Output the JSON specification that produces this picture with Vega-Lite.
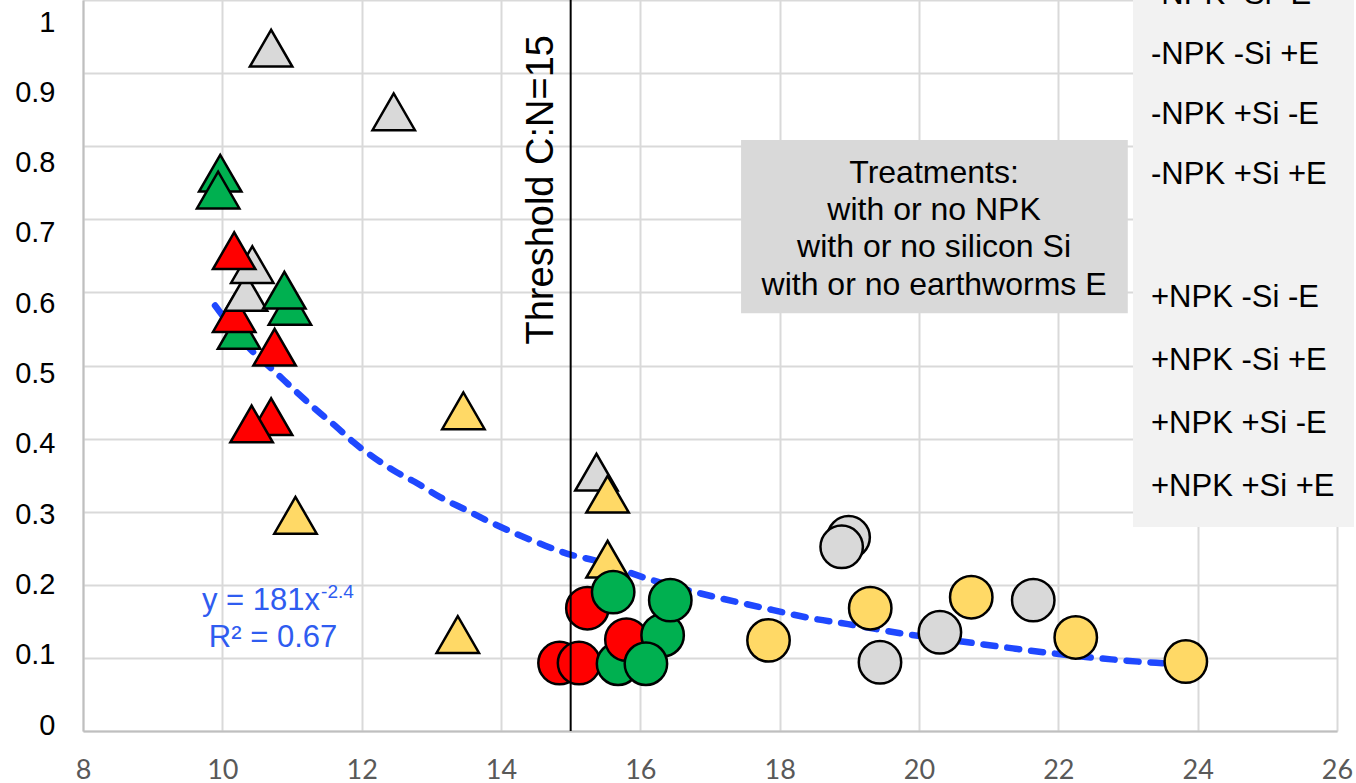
{
  "$schema": "https://vega.github.io/schema/vega-lite/v6.json",
  "width": 1254,
  "height": 731,
  "autosize": "none",
  "padding": {"left": 83, "top": 0, "right": 19, "bottom": 52},
  "background": "white",
  "config": {"view": {"stroke": null}, "font": "Liberation Sans"},
  "datasets": {
    "points": [
      {"cn": 10.24, "y": 0.548, "treatment": "-NPK +Si +E"},
      {"cn": 10.17, "y": 0.571, "treatment": "-NPK +Si -E"},
      {"cn": 10.34, "y": 0.600, "treatment": "-NPK -Si -E"},
      {"cn": 10.43, "y": 0.638, "treatment": "-NPK -Si -E"},
      {"cn": 10.17, "y": 0.657, "treatment": "-NPK +Si -E"},
      {"cn": 9.97, "y": 0.763, "treatment": "-NPK +Si +E"},
      {"cn": 9.94, "y": 0.740, "treatment": "-NPK +Si +E"},
      {"cn": 10.97, "y": 0.581, "treatment": "-NPK +Si +E"},
      {"cn": 10.89, "y": 0.603, "treatment": "-NPK +Si +E"},
      {"cn": 10.75, "y": 0.525, "treatment": "-NPK +Si -E"},
      {"cn": 10.70, "y": 0.430, "treatment": "-NPK +Si -E"},
      {"cn": 10.42, "y": 0.420, "treatment": "-NPK +Si -E"},
      {"cn": 10.70, "y": 0.934, "treatment": "-NPK -Si -E"},
      {"cn": 12.46, "y": 0.847, "treatment": "-NPK -Si -E"},
      {"cn": 13.46, "y": 0.438, "treatment": "-NPK -Si +E"},
      {"cn": 11.05, "y": 0.295, "treatment": "-NPK -Si +E"},
      {"cn": 13.38, "y": 0.132, "treatment": "-NPK -Si +E"},
      {"cn": 15.37, "y": 0.354, "treatment": "-NPK -Si -E"},
      {"cn": 15.53, "y": 0.324, "treatment": "-NPK -Si +E"},
      {"cn": 15.53, "y": 0.235, "treatment": "-NPK -Si +E"},
      {"cn": 15.24, "y": 0.168, "treatment": "+NPK +Si -E"},
      {"cn": 15.61, "y": 0.190, "treatment": "+NPK +Si +E"},
      {"cn": 14.84, "y": 0.093, "treatment": "+NPK +Si -E"},
      {"cn": 15.12, "y": 0.093, "treatment": "+NPK +Si -E"},
      {"cn": 15.68, "y": 0.092, "treatment": "+NPK +Si +E"},
      {"cn": 15.80, "y": 0.125, "treatment": "+NPK +Si -E"},
      {"cn": 16.32, "y": 0.131, "treatment": "+NPK +Si +E"},
      {"cn": 16.43, "y": 0.179, "treatment": "+NPK +Si +E"},
      {"cn": 16.08, "y": 0.092, "treatment": "+NPK +Si +E"},
      {"cn": 18.99, "y": 0.265, "treatment": "+NPK -Si -E"},
      {"cn": 18.89, "y": 0.252, "treatment": "+NPK -Si -E"},
      {"cn": 19.44, "y": 0.094, "treatment": "+NPK -Si -E"},
      {"cn": 20.30, "y": 0.135, "treatment": "+NPK -Si -E"},
      {"cn": 21.64, "y": 0.179, "treatment": "+NPK -Si -E"},
      {"cn": 17.84, "y": 0.124, "treatment": "+NPK -Si +E"},
      {"cn": 19.30, "y": 0.168, "treatment": "+NPK -Si +E"},
      {"cn": 20.75, "y": 0.183, "treatment": "+NPK -Si +E"},
      {"cn": 22.25, "y": 0.128, "treatment": "+NPK -Si +E"},
      {"cn": 23.83, "y": 0.095, "treatment": "+NPK -Si +E"}
    ],
    "trend": [
      {"cn": 9.895, "y": 0.582},
      {"cn": 10.42, "y": 0.5205},
      {"cn": 10.709, "y": 0.4955},
      {"cn": 11.068, "y": 0.4635},
      {"cn": 11.33, "y": 0.4408},
      {"cn": 11.642, "y": 0.4157},
      {"cn": 11.88, "y": 0.3952},
      {"cn": 12.167, "y": 0.3747},
      {"cn": 12.454, "y": 0.3566},
      {"cn": 12.766, "y": 0.3406},
      {"cn": 13.125, "y": 0.32},
      {"cn": 13.508, "y": 0.3019},
      {"cn": 13.843, "y": 0.2859},
      {"cn": 14.177, "y": 0.2714},
      {"cn": 14.56, "y": 0.2564},
      {"cn": 14.944, "y": 0.2427},
      {"cn": 15.33, "y": 0.2336},
      {"cn": 16.097, "y": 0.2086},
      {"cn": 16.867, "y": 0.1881},
      {"cn": 17.702, "y": 0.1698},
      {"cn": 18.469, "y": 0.1539},
      {"cn": 18.982, "y": 0.1462},
      {"cn": 19.751, "y": 0.1335},
      {"cn": 20.647, "y": 0.122},
      {"cn": 21.35, "y": 0.113},
      {"cn": 21.93, "y": 0.1061},
      {"cn": 22.763, "y": 0.098},
      {"cn": 23.403, "y": 0.0933},
      {"cn": 23.834, "y": 0.0915}
    ]
  },
  "layer": [
    {
      "data": {"name": "trend"},
      "mark": {"type": "line", "color": "#1f48ff", "strokeWidth": 6.5, "strokeDash": [12, 12], "strokeCap": "round", "interpolate": "monotone"},
      "encoding": {
        "x": {"field": "cn", "type": "quantitative", "scale": {"domain": [8, 26], "nice": false, "zero": false}},
        "y": {"field": "y", "type": "quantitative", "scale": {"domain": [0, 1], "nice": false}}
      }
    },
    {
      "data": {"name": "points"},
      "mark": {"type": "point", "filled": true, "stroke": "black", "strokeWidth": 2.5, "opacity": 1, "fillOpacity": 1, "strokeOpacity": 1},
      "encoding": {
        "x": {"field": "cn", "type": "quantitative", "scale": {"domain": [8, 26], "nice": false, "zero": false},
          "axis": {"values": [8, 10, 12, 14, 16, 18, 20, 22, 24, 26], "format": "d", "title": null, "grid": true, "gridColor": "#d9d9d9", "gridWidth": 2, "domainColor": "#bfbfbf", "domainWidth": 2, "ticks": false, "labelFont": "Lato", "labelFontSize": 27, "labelColor": "#595959", "labelPadding": 26, "labelFlush": false, "labelOverlap": false}},
        "y": {"field": "y", "type": "quantitative", "scale": {"domain": [0, 1], "nice": false},
          "axis": {"values": [0, 0.1, 0.2, 0.3, 0.4, 0.5, 0.6, 0.7, 0.8, 0.9, 1], "format": "~g", "title": null, "grid": true, "gridColor": "#d9d9d9", "gridWidth": 2, "domainColor": "#bfbfbf", "domainWidth": 2, "ticks": false, "labelFont": "Liberation Sans", "labelFontSize": 29, "labelColor": "black", "labelPadding": 28, "labelOffset": {"expr": "-6 + 28*datum.value"}, "labelFlush": false, "labelOverlap": false, "labelBound": false}},
        "color": {"field": "treatment", "type": "nominal",
          "scale": {"domain": ["-NPK -Si -E", "-NPK -Si +E", "-NPK +Si -E", "-NPK +Si +E", " ", "+NPK -Si -E", "+NPK -Si +E", "+NPK +Si -E", "+NPK +Si +E"],
            "range": ["#d9d9d9", "#ffd966", "#ff0000", "#00b050", "#ffffff", "#d9d9d9", "#ffd966", "#ff0000", "#00b050"]},
          "legend": {"orient": "none", "legendX": 1050, "legendY": -46, "title": null, "fillColor": "#f2f2f2", "padding": 19, "labelFontSize": 31, "labelFont": "Liberation Sans", "labelColor": "black", "symbolSize": 0, "symbolOpacity": 0, "symbolStrokeWidth": 0, "labelOffset": -44, "rowPadding": 20, "labelLimit": 400}},
        "shape": {"field": "treatment", "type": "nominal",
          "scale": {"domain": ["-NPK -Si -E", "-NPK -Si +E", "-NPK +Si -E", "-NPK +Si +E", " ", "+NPK -Si -E", "+NPK -Si +E", "+NPK +Si -E", "+NPK +Si +E"],
            "range": ["triangle-up", "triangle-up", "triangle-up", "triangle-up", "circle", "circle", "circle", "circle", "circle"]},
          "legend": null},
        "size": {"field": "treatment", "type": "nominal",
          "scale": {"domain": ["-NPK -Si -E", "-NPK -Si +E", "-NPK +Si -E", "-NPK +Si +E", " ", "+NPK -Si -E", "+NPK -Si +E", "+NPK +Si -E", "+NPK +Si +E"],
            "range": [1800, 1800, 1800, 1800, 0, 1260, 1260, 1260, 1260]},
          "legend": null}
      }
    },
    {
      "data": {"values": [{}]},
      "mark": {"type": "rule", "color": "black", "strokeWidth": 2},
      "encoding": {
        "x": {"datum": 15, "type": "quantitative", "scale": {"domain": [8, 26], "nice": false, "zero": false}}
      }
    },
    {
      "data": {"values": [{}]},
      "mark": {"type": "text", "text": "Threshold C:N=15", "angle": 270, "fontSize": 38, "font": "Liberation Sans", "align": "center", "baseline": "alphabetic", "color": "black"},
      "encoding": {
        "x": {"datum": 14.75, "type": "quantitative", "scale": {"domain": [8, 26], "nice": false, "zero": false}},
        "y": {"datum": 0.7404, "type": "quantitative", "scale": {"domain": [0, 1], "nice": false}}
      }
    },
    {
      "data": {"values": [{}]},
      "mark": {"type": "rect", "color": "#d9d9d9", "opacity": 1},
      "encoding": {
        "x": {"datum": 17.446, "type": "quantitative", "scale": {"domain": [8, 26], "nice": false, "zero": false}},
        "x2": {"datum": 22.997},
        "y": {"datum": 0.8085, "type": "quantitative", "scale": {"domain": [0, 1], "nice": false}},
        "y2": {"datum": 0.5714}
      }
    },
    {
      "data": {"values": [{}]},
      "mark": {"type": "text", "text": ["Treatments:", "with or no NPK", "with or no silicon Si", "with or no earthworms E"], "fontSize": 32, "lineHeight": 37.3, "font": "Liberation Sans", "align": "center", "baseline": "middle", "color": "black"},
      "encoding": {
        "x": {"datum": 20.216, "type": "quantitative", "scale": {"domain": [8, 26], "nice": false, "zero": false}},
        "y": {"datum": 0.7636, "type": "quantitative", "scale": {"domain": [0, 1], "nice": false}}
      }
    },
    {
      "data": {"values": [{}]},
      "mark": {"type": "text", "text": "y = 181x", "fontSize": 31, "font": "Liberation Sans", "align": "right", "baseline": "alphabetic", "color": "#2f5cf0"},
      "encoding": {
        "x": {"datum": 11.402, "type": "quantitative", "scale": {"domain": [8, 26], "nice": false, "zero": false}},
        "y": {"datum": 0.1653, "type": "quantitative", "scale": {"domain": [0, 1], "nice": false}}
      }
    },
    {
      "data": {"values": [{}]},
      "mark": {"type": "text", "text": "-2.4", "fontSize": 19, "font": "Liberation Sans", "align": "left", "baseline": "alphabetic", "color": "#2f5cf0"},
      "encoding": {
        "x": {"datum": 11.417, "type": "quantitative", "scale": {"domain": [8, 26], "nice": false, "zero": false}},
        "y": {"datum": 0.1817, "type": "quantitative", "scale": {"domain": [0, 1], "nice": false}}
      }
    },
    {
      "data": {"values": [{}]},
      "mark": {"type": "text", "text": "R² = 0.67", "fontSize": 31, "font": "Liberation Sans", "align": "center", "baseline": "alphabetic", "color": "#2f5cf0"},
      "encoding": {
        "x": {"datum": 10.728, "type": "quantitative", "scale": {"domain": [8, 26], "nice": false, "zero": false}},
        "y": {"datum": 0.1148, "type": "quantitative", "scale": {"domain": [0, 1], "nice": false}}
      }
    }
  ]
}
